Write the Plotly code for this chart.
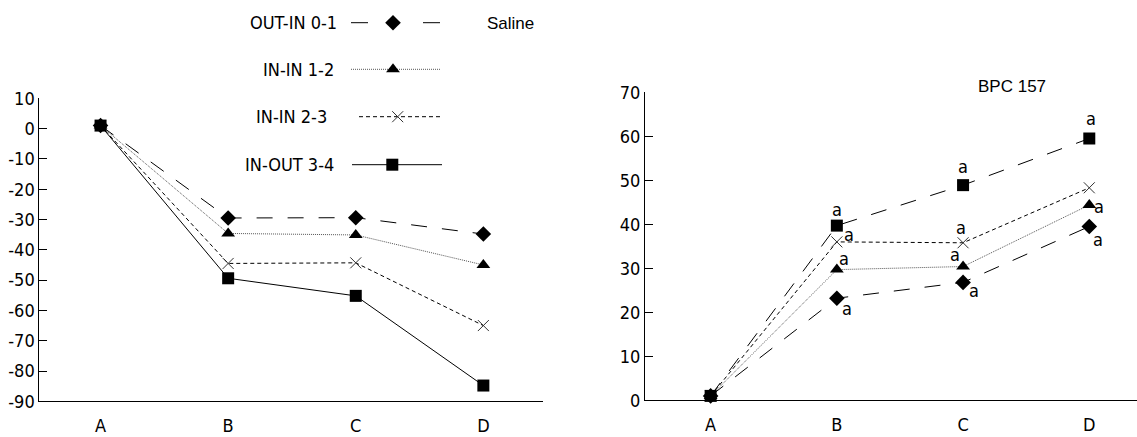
import plotly.graph_objects as go

# ---------------- data ----------------
categories = ["A", "B", "C", "D"]
series_names = ["OUT-IN 0-1", "IN-IN 1-2", "IN-IN 2-3", "IN-OUT 3-4"]

saline_out_in_01 = [1, -29.5, -29.4, -34.8]
saline_in_in_12 = [1, -34.6, -35.1, -45.0]
saline_in_in_23 = [1, -44.5, -44.3, -65.0]
saline_in_out_34 = [1, -49.4, -55.2, -84.8]

bpc_out_in_01 = [1, 23.2, 26.8, 39.5]
bpc_in_in_12 = [1, 29.7, 30.4, 44.4]
bpc_in_in_23 = [1, 36.0, 35.8, 48.3]
bpc_in_out_34 = [1, 39.7, 48.9, 59.5]

bpc_sig_01 = ["", "a", "a", "a"]
bpc_sig_12 = ["", "a", "a", "a"]
bpc_sig_23 = ["", "a", "a", ""]
bpc_sig_34 = ["", "a", "a", "a"]

left_yticks = list(range(-90, 11, 10))
right_yticks = list(range(0, 71, 10))

panel_titles = ["Saline", "BPC 157"]

# ---------------- styles ----------------
W, H = 1137, 437
FONT = "DejaVu Sans Condensed, DejaVu Sans, sans-serif"
NARROW = "Liberation Sans, Arial, sans-serif"

styles = [
    dict(symbol="diamond", size=12, mcolor="black", mline=0, lcolor="black", dash="16px,15px", lwidth=1),
    dict(symbol="triangle-up", size=12, mcolor="black", mline=0, lcolor="#555555", dash="1px,1px", lwidth=1),
    dict(symbol="x-thin-open", size=11, mcolor="#333333", mline=1, lcolor="black", dash="4px,3px", lwidth=1),
    dict(symbol="square", size=12, mcolor="black", mline=0, lcolor="black", dash="solid", lwidth=1),
]
right_dash = ["16px,15px", "1px,1px", "4px,3px", "16px,15px"]

# pixel offsets (dx right, dy down) for the 'a' marks, per series per category
sig_offsets = [
    [None, (10, 10), (11, 8), (9, 13)],
    [None, (7, -11), (-8, -12), (10, 2)],
    [None, (12, -7), (-2, -15), None],
    [None, (0, -16), (0, -19), (2, -20)],
]

fig = go.Figure()

saline = [saline_out_in_01, saline_in_in_12, saline_in_in_23, saline_in_out_34]
bpc = [bpc_out_in_01, bpc_in_in_12, bpc_in_in_23, bpc_in_out_34]
sigs = [bpc_sig_01, bpc_sig_12, bpc_sig_23, bpc_sig_34]

def add_series(vals, st, dash, xa, ya, name):
    fig.add_trace(go.Scatter(
        x=categories, y=vals, mode="lines+markers", name=name, showlegend=False,
        xaxis=xa, yaxis=ya, cliponaxis=False,
        line=dict(color=st["lcolor"], width=st["lwidth"], dash=dash),
        marker=dict(symbol=st["symbol"], size=st["size"], color=st["mcolor"],
                    line=dict(width=st["mline"], color=st["mcolor"])),
    ))

for i in range(4):
    add_series(saline[i], styles[i], styles[i]["dash"], "x", "y", series_names[i])
for i in range(4):
    add_series(bpc[i], styles[i], right_dash[i], "x2", "y2", series_names[i])

annotations = []
for i in range(4):
    for j, lab in enumerate(sigs[i]):
        if lab and sig_offsets[i][j] is not None:
            dx, dy = sig_offsets[i][j]
            annotations.append(dict(
                x=categories[j], y=bpc[i][j], xref="x2", yref="y2", text=lab,
                showarrow=False, xshift=dx, yshift=-dy,
                font=dict(family=FONT, size=18, color="black"),
                xanchor="center", yanchor="middle"))

# ---------------- custom legend (pixel space overlay) ----------------
leg_rows_y = [22.7, 69.3, 116.7, 164.7]
leg_text_right = [339, 336, 329, 336]
leg_line_x = [(351, 440), (351, 441), (359, 440), (352, 442)]
leg_marker_x = [393, 393, 397.7, 392.3]
leg_dash = ["17px,55px", "1px,1px", "4px,3px", "solid"]

for i in range(4):
    st = styles[i]
    x0, x1 = leg_line_x[i]
    fig.add_trace(go.Scatter(
        x=[x0, x1], y=[leg_rows_y[i]] * 2, mode="lines", showlegend=False,
        xaxis="x3", yaxis="y3", hoverinfo="skip",
        line=dict(color=st["lcolor"], width=1, dash=leg_dash[i])))
    fig.add_trace(go.Scatter(
        x=[leg_marker_x[i]], y=[leg_rows_y[i]], mode="markers", showlegend=False,
        xaxis="x3", yaxis="y3", hoverinfo="skip",
        marker=dict(symbol=st["symbol"], size=st["size"], color=st["mcolor"],
                    line=dict(width=st["mline"], color=st["mcolor"]))))
    annotations.append(dict(
        x=leg_text_right[i], y=leg_rows_y[i], xref="x3", yref="y3", text=series_names[i],
        showarrow=False, xanchor="right", yanchor="middle",
        font=dict(family=FONT, size=18, color="black")))

annotations.append(dict(x=485, y=23.3, xref="x3", yref="y3", text=panel_titles[0],
                        showarrow=False, xanchor="left", yanchor="middle",
                        font=dict(family=NARROW, size=17, color="black")))
annotations.append(dict(x=1011.7, y=86.7, xref="x3", yref="y3", text=panel_titles[1],
                        showarrow=False, xanchor="center", yanchor="middle",
                        font=dict(family=NARROW, size=17, color="black")))

tickfont = dict(family=FONT, size=18, color="black")
xcommon = dict(type="category", showline=True, linecolor="black", linewidth=1,
               ticks="", showgrid=False, zeroline=False, tickfont=tickfont,
               ticklabelstandoff=8, fixedrange=True, automargin=False)
ycommon = dict(showline=True, linecolor="black", linewidth=1, ticks="inside",
               ticklen=8, tickcolor="black", showgrid=False, zeroline=False,
               tickfont=tickfont, fixedrange=True, automargin=False)

fig.update_layout(
    width=W, height=H, autosize=False, margin=dict(l=0, r=0, t=0, b=0, pad=0),
    paper_bgcolor="white", plot_bgcolor="rgba(0,0,0,0)", showlegend=False,
    xaxis=dict(domain=[39.3 / W, 542.7 / W], range=[-0.48, 3.465], anchor="y", **xcommon),
    yaxis=dict(domain=[1 - 401.3 / H, 1 - 98.3 / H], range=[-90, 10], tickvals=left_yticks,
               ticktext=[str(v) for v in left_yticks], anchor="x", **ycommon),
    xaxis2=dict(domain=[645 / W, 1.0], range=[-0.52, 3.378], anchor="y2", **xcommon),
    yaxis2=dict(domain=[1 - 400.3 / H, 1 - 92.3 / H], range=[0, 70], tickvals=right_yticks,
                ticktext=[str(v) for v in right_yticks], anchor="x2", **ycommon),
    xaxis3=dict(domain=[0, 1], range=[0, W], visible=False, fixedrange=True, anchor="y3"),
    yaxis3=dict(domain=[0, 1], range=[H, 0], visible=False, fixedrange=True, anchor="x3"),
    annotations=annotations,
)

fig.write_html(
    "out.html",
    config={"displayModeBar": False, "responsive": False},
    post_script="document.body.style.margin='0';document.body.style.overflow='hidden';",
)
